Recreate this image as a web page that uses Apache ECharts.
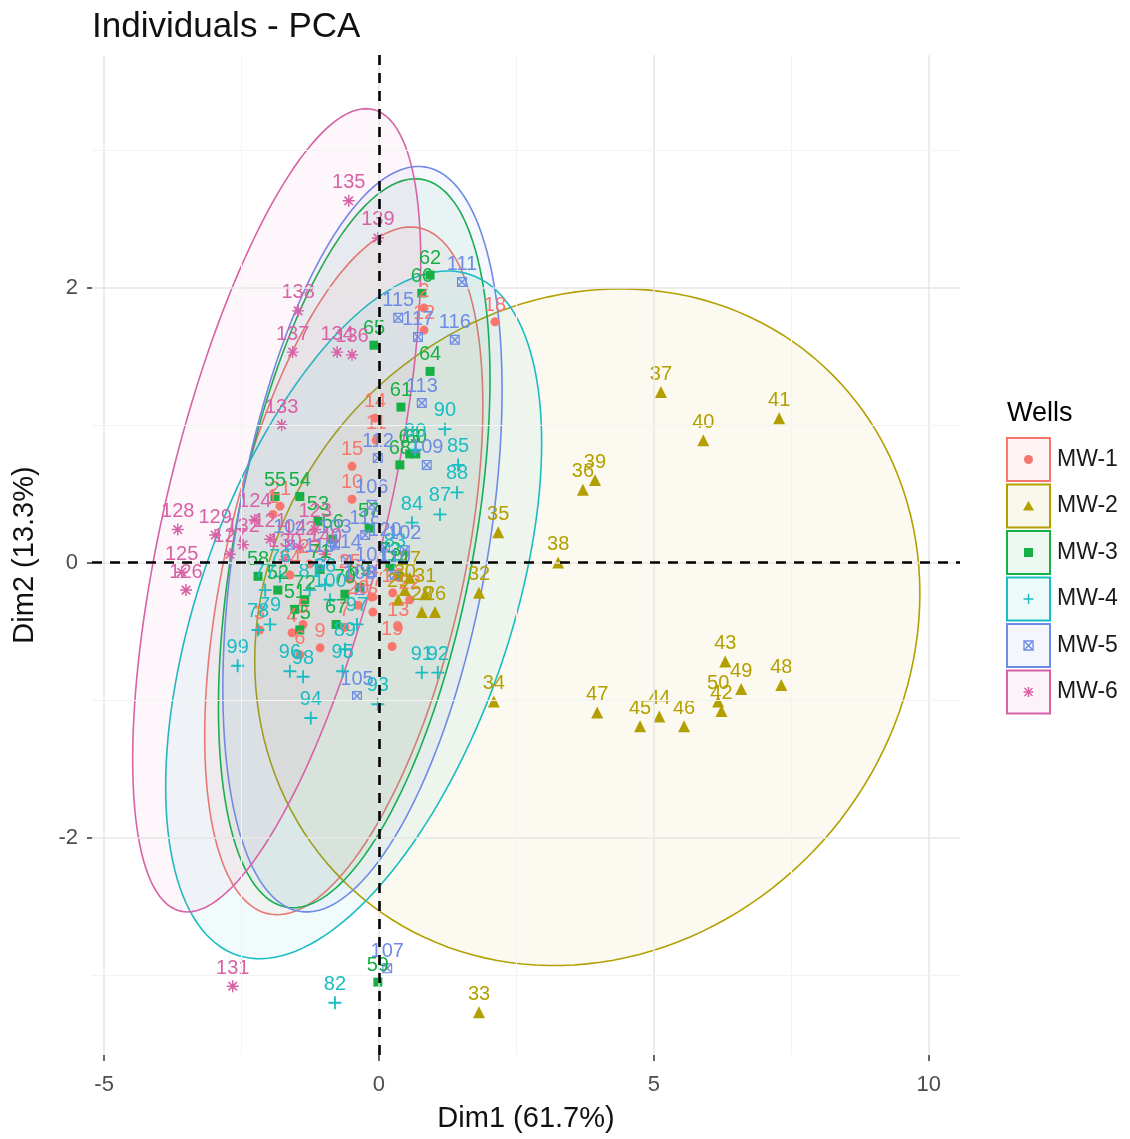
<!DOCTYPE html>
<html>
<head>
<meta charset="utf-8">
<title>Individuals - PCA</title>
<script src="https://cdn.jsdelivr.net/npm/echarts@6.0.0/dist/echarts.min.js"></script>
<style>
  html, body { margin: 0; padding: 0; background: #fff; }
  #main { width: 1130px; height: 1139px; }
</style>
</head>
<body>
<div id="main"></div>
<script>
(function () {
    'use strict';

    var wells = ['MW-1', 'MW-2', 'MW-3', 'MW-4', 'MW-5', 'MW-6'];

    // individuals of each well, [Dim1, Dim2]
    var mw1Labels = ['1','2','3','4','5','6','7','8','9','10','11','12','13','14','15','16','17','18','19','20','21','22','23','24','25'];
    var mw1Points = [[-1.93,0.35],[0.82,1.85],[-2.17,-0.49],[-1.58,-0.51],[-1.38,-0.45],[-1.44,-0.67],[-0.62,-0.47],[-0.11,-0.36],[-1.07,-0.62],[-0.49,0.46],
        [-0.05,0.89],[0.82,1.69],[0.35,-0.47],[-0.07,1.05],[-0.49,0.70],[0.25,-0.22],[-0.13,-0.25],[2.11,1.75],[0.24,-0.61],[-0.38,-0.31],
        [-1.80,0.41],[0.56,-0.27],[-1.26,-0.01],[-1.62,-0.09],[-0.53,-0.12]];

    var mw2Labels = ['26','27','28','29','30','31','32','33','34','35','36','37','38','39','40','41','42','43','44','45','46','47','48','49','50'];
    var mw2Points = [[1.02,-0.36],[0.56,-0.11],[0.78,-0.36],[0.35,-0.27],[0.47,-0.20],[0.84,-0.23],[1.82,-0.22],[1.82,-3.27],[2.09,-1.01],[2.17,0.22],
        [3.71,0.53],[5.13,1.24],[3.26,0.00],[3.93,0.60],[5.90,0.89],[7.28,1.05],[6.23,-1.08],[6.30,-0.72],[5.10,-1.12],[4.75,-1.19],
        [5.55,-1.19],[3.97,-1.09],[7.32,-0.89],[6.59,-0.92],[6.17,-1.01]];

    var mw3Labels = ['51','52','53','54','55','56','57','58','59','60','61','62','63','64','65','66','67','68','69','70','71','72','73','74','75'];
    var mw3Points = [[-1.53,-0.34],[-1.84,-0.20],[-1.11,0.30],[-1.44,0.48],[-1.89,0.48],[-0.84,0.17],[-0.18,0.25],[-2.20,-0.10],[-0.02,-3.05],[0.67,0.79],
        [0.40,1.13],[0.93,2.09],[0.56,0.79],[0.93,1.39],[-0.09,1.58],[0.78,1.96],[-0.78,-0.45],[0.38,0.71],[-0.35,-0.18],[-0.62,-0.23],
        [-1.07,-0.05],[-1.35,-0.27],[0.20,-0.03],[0.35,-0.10],[-1.44,-0.49]];

    var mw4Labels = ['76','77','78','79','80','81','82','83','84','85','86','87','88','89','90','91','92','93','94','95','96','97','98','99','100'];
    var mw4Points = [[-1.80,-0.10],[-2.07,-0.20],[-2.20,-0.49],[-1.98,-0.45],[0.66,0.82],[-1.26,-0.20],[-0.80,-3.20],[0.29,0.02],[0.60,0.29],[1.44,0.71],
        [-0.98,-0.16],[1.11,0.35],[1.42,0.51],[-0.62,-0.63],[1.20,0.97],[0.78,-0.80],[1.07,-0.80],[-0.02,-1.03],[-1.24,-1.13],[-0.66,-0.79],
        [-1.62,-0.79],[-0.40,-0.45],[-1.38,-0.83],[-2.57,-0.75],[-0.89,-0.27]];

    var mw5Labels = ['101','102','103','104','105','106','107','108','109','110','111','112','113','114','115','116','117','118','119','120'];
    var mw5Points = [[-0.13,-0.07],[0.47,0.09],[-0.80,0.13],[-1.62,0.13],[-0.40,-0.97],[-0.13,0.42],[0.15,-2.95],[-0.35,-0.20],[0.87,0.71],[0.29,-0.09],
        [1.51,2.04],[-0.02,0.76],[0.78,1.16],[-0.60,0.02],[0.35,1.78],[1.38,1.62],[0.71,1.64],[-0.25,0.20],[-1.07,-0.01],[0.11,0.11]];

    var mw6Labels = ['121','122','123','124','125','126','127','128','129','130','131','132','133','134','135','136','137','138','139','140'];
    var mw6Points = [[-1.98,0.17],[-1.44,0.11],[-1.16,0.24],[-2.26,0.31],[-3.59,-0.07],[-3.51,-0.20],[-2.71,0.06],[-3.66,0.24],[-2.98,0.20],[-1.71,0.02],
        [-2.66,-3.08],[-2.47,0.13],[-1.77,1.00],[-0.76,1.53],[-0.55,2.63],[-0.49,1.51],[-1.57,1.53],[-1.47,1.83],[-0.02,2.36],[-0.98,0.06]];

    // ellipse of each well: centre, half extent along Dim1 / Dim2, correlation
    var ellipseCx = [-0.64, 3.79, -0.45, -0.46, -0.30, -1.86];
    var ellipseCy = [-0.06, -0.47, 0.14, -0.38, 0.17, 0.38];
    var ellipseSx = [2.53, 6.05, 2.47, 3.42, 2.54, 2.62];
    var ellipseSy = [2.50, 2.46, 2.65, 2.50, 2.71, 2.92];
    var ellipseR = [0.48, 0.10, 0.45, 0.50, 0.40, 0.62];

    var xTicks = [-5, 0, 5, 10];
    var yTicks = [-2, 0, 2];
    var xMinor = [-2.5, 2.5, 7.5];
    var yMinor = [-3, -1, 1, 3];

    var colors = ['#F8766D', '#B3A000', '#16B044', '#19BDC2', '#6E8BE6', '#D862A6'];
    var shapes = [
        'M5,0A5,5,0,1,1,5,10A5,5,0,1,1,5,0Z',
        'M5,0L10,9L0,9Z',
        'M0,0H10V10H0Z',
        'M4.3,0H5.7V10H4.3ZM0,4.3H10V5.7H0Z',
        'M0,0H10V10H0ZM1.2,1.2V8.8H8.8V1.2ZM1,2L2,1L9,8L8,9ZM8,1L9,2L2,9L1,8Z',
        'M4.4,0H5.6V10H4.4ZM0,4.4H10V5.6H0ZM1,2L2,1L9,8L8,9ZM8,1L9,2L2,9L1,8Z'
    ];
    var symbolSizes = [9, 12, 9, 13, 10, 12];
    var font = "'Liberation Sans', Arial, sans-serif";

    var allLabels = [mw1Labels, mw2Labels, mw3Labels, mw4Labels, mw5Labels, mw6Labels];
    var allPoints = [mw1Points, mw2Points, mw3Points, mw4Points, mw5Points, mw6Points];

    var dom = document.getElementById('main');
    var myChart = echarts.init(dom);

    function renderEllipse(params, api) {
        var i = api.value(2);
        var r = ellipseR[i];
        var k = Math.sqrt(1 - r * r);
        var pts = [];
        for (var s = 0; s <= 160; s++) {
            var t = s / 160 * Math.PI * 2;
            var x = ellipseCx[i] + ellipseSx[i] * Math.cos(t);
            var y = ellipseCy[i] + ellipseSy[i] * (r * Math.cos(t) + k * Math.sin(t));
            pts.push(api.coord([x, y]));
        }
        return {
            type: 'polygon',
            shape: { points: pts },
            style: {
                fill: echarts.color.modifyAlpha(colors[i], 0.06),
                stroke: colors[i],
                lineWidth: 1.6
            }
        };
    }

    // small key symbol for the legend, centred on (cx, cy)
    function keySymbol(i, cx, cy) {
        var c = colors[i];
        var line = function (x1, y1, x2, y2) {
            return { type: 'line', shape: { x1: cx + x1, y1: cy + y1, x2: cx + x2, y2: cy + y2 }, style: { stroke: c, lineWidth: 1.5 } };
        };
        if (i === 0) return [{ type: 'circle', shape: { cx: cx, cy: cy, r: 4.5 }, style: { fill: c } }];
        if (i === 1) return [{ type: 'polygon', shape: { points: [[cx, cy - 5], [cx + 5.5, cy + 4.5], [cx - 5.5, cy + 4.5]] }, style: { fill: c } }];
        if (i === 2) return [{ type: 'rect', shape: { x: cx - 4.5, y: cy - 4.5, width: 9, height: 9 }, style: { fill: c } }];
        if (i === 3) return [line(-5, 0, 5, 0), line(0, -5, 0, 5)];
        if (i === 4) return [{ type: 'rect', shape: { x: cx - 4.5, y: cy - 4.5, width: 9, height: 9 }, style: { fill: 'none', stroke: c, lineWidth: 1.3 } },
            line(-4.5, -4.5, 4.5, 4.5), line(-4.5, 4.5, 4.5, -4.5)];
        return [line(-5, 0, 5, 0), line(0, -5, 0, 5), line(-4, -4, 4, 4), line(-4, 4, 4, -4)];
    }

    var gridLines = [];
    xTicks.forEach(function (v) { gridLines.push({ xAxis: v, lineStyle: { color: '#E6E6E6', width: 1.5, type: 'solid' } }); });
    yTicks.forEach(function (v) { gridLines.push({ yAxis: v, lineStyle: { color: '#E6E6E6', width: 1.5, type: 'solid' } }); });
    xMinor.forEach(function (v) { gridLines.push({ xAxis: v, lineStyle: { color: '#F3F3F3', width: 1, type: 'solid' } }); });
    yMinor.forEach(function (v) { gridLines.push({ yAxis: v, lineStyle: { color: '#F3F3F3', width: 1, type: 'solid' } }); });

    var series = [
        {
            type: 'scatter',
            data: [],
            z: 1,
            silent: true,
            markLine: { silent: true, symbol: ['none', 'none'], label: { show: false }, animation: false, data: gridLines }
        },
        {
            type: 'custom',
            renderItem: renderEllipse,
            data: wells.map(function (w, i) { return [ellipseCx[i], ellipseCy[i], i]; }),
            encode: { x: 0, y: 1 },
            z: 2,
            silent: true,
            clip: true
        },
        {
            type: 'scatter',
            data: [],
            z: 3,
            silent: true,
            markLine: {
                silent: true,
                symbol: ['none', 'none'],
                label: { show: false },
                animation: false,
                lineStyle: { color: '#000', width: 2.6, type: [10, 8] },
                data: [{ xAxis: 0 }, { yAxis: 0 }]
            }
        }
    ];

    wells.forEach(function (w, i) {
        series.push({
            name: w,
            type: 'scatter',
            z: 4,
            symbol: 'path://' + shapes[i],
            symbolSize: symbolSizes[i],
            itemStyle: { color: colors[i], opacity: 1 },
            label: {
                show: true,
                position: 'top',
                distance: 2,
                formatter: '{b}',
                fontSize: 20,
                fontFamily: font,
                color: colors[i]
            },
            emphasis: { disabled: true },
            data: allPoints[i].map(function (p, j) {
                return { name: allLabels[i][j], value: p };
            })
        });
    });

    // legend drawn as ggplot-style keys
    var graphics = [{
        type: 'text', x: 1007, y: 414,
        style: { text: 'Wells', fontSize: 27, fontFamily: font, fill: '#000', verticalAlign: 'middle' }
    }, {
        type: 'text', x: 92, y: 27,
        style: { text: 'Individuals - PCA', fontSize: 35, fontFamily: font, fill: '#111', verticalAlign: 'middle' }
    }];
    wells.forEach(function (w, i) {
        var top = 438 + i * 46.5;
        graphics.push({
            type: 'rect',
            shape: { x: 1007, y: top, width: 43, height: 43 },
            style: { fill: echarts.color.modifyAlpha(colors[i], 0.08), stroke: colors[i], lineWidth: 2 }
        });
        keySymbol(i, 1028.5, top + 21.5).forEach(function (el) { graphics.push(el); });
        graphics.push({
            type: 'text', x: 1057, y: top + 21.5,
            style: { text: w, fontSize: 23, fontFamily: font, fill: '#1a1a1a', verticalAlign: 'middle' }
        });
    });

    var option = {
        animation: false,
        backgroundColor: '#fff',
        grid: { left: 92, right: 170, top: 55, bottom: 84, containLabel: false },
        xAxis: {
            type: 'value',
            min: -5.22,
            max: 10.57,
            axisLine: { show: true, onZero: false, lineStyle: { color: 'rgba(0,0,0,0)' } },
            axisTick: { show: true, customValues: xTicks, length: 6, lineStyle: { color: '#333', width: 1.5 } },
            axisLabel: { customValues: xTicks, fontSize: 22, color: '#4d4d4d', fontFamily: font, margin: 19 },
            splitLine: { show: false },
            name: 'Dim1 (61.7%)',
            nameLocation: 'middle',
            nameGap: 49,
            nameTextStyle: { fontSize: 29, color: '#111', fontFamily: font }
        },
        yAxis: {
            type: 'value',
            min: -3.58,
            max: 3.69,
            axisLine: { show: true, onZero: false, lineStyle: { color: 'rgba(0,0,0,0)' } },
            axisTick: { show: true, customValues: yTicks, length: 5, lineStyle: { color: '#333', width: 1.5 } },
            axisLabel: { customValues: yTicks, fontSize: 22, color: '#4d4d4d', fontFamily: font, margin: 14 },
            splitLine: { show: false },
            name: 'Dim2 (13.3%)',
            nameLocation: 'middle',
            nameGap: 53,
            nameTextStyle: { fontSize: 29, color: '#111', fontFamily: font }
        },
        graphic: graphics,
        series: series
    };
    myChart.setOption(option, true);
}());
</script>
</body>
</html>
